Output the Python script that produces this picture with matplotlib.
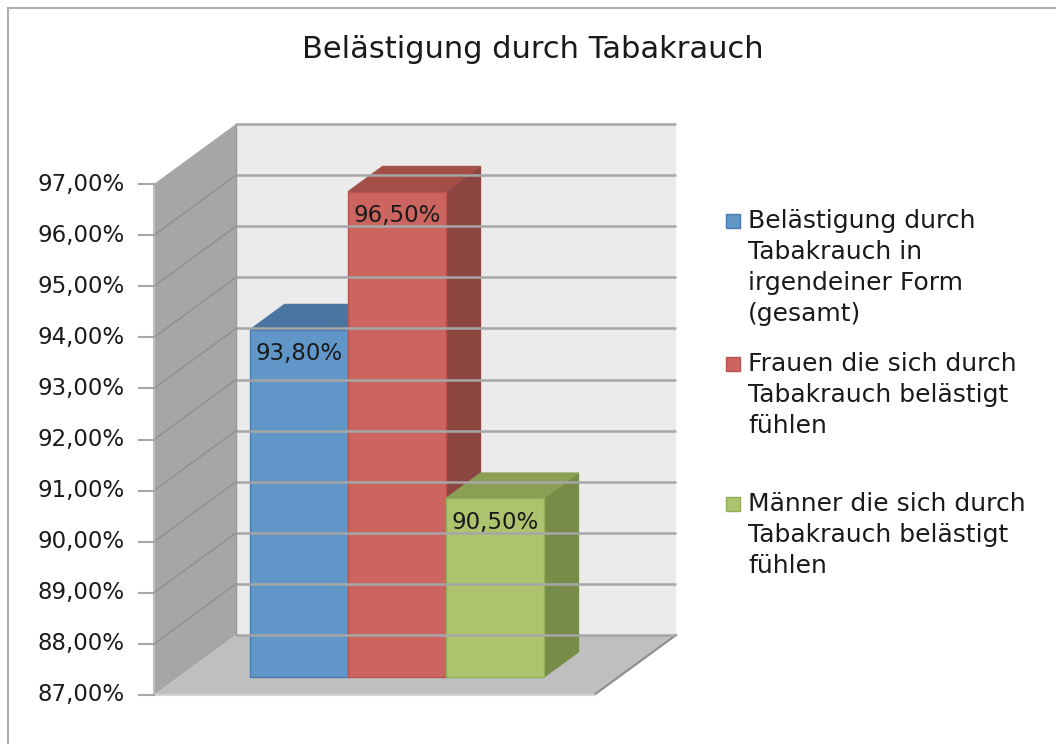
import matplotlib
matplotlib.use("Agg")
import matplotlib.pyplot as plt
from matplotlib.patches import Polygon, Rectangle

plt.rcParams["font.family"] = ["DejaVu Sans"]

title = "Belästigung durch Tabakrauch"
labels = [
    "Belästigung durch\nTabakrauch in\nirgendeiner Form\n(gesamt)",
    "Frauen die sich durch\nTabakrauch belästigt\nfühlen",
    "Männer die sich durch\nTabakrauch belästigt\nfühlen",
]
values = [93.8, 96.5, 90.5]
value_text = ["93,80%", "96,50%", "90,50%"]
ticks = list(range(87, 98))
tick_text = [f"{t},00%" for t in ticks]

front = ["#6196c9", "#cc6560", "#abc46d"]
top = ["#4a75a0", "#a34f48", "#8a9e54"]
side = ["#3f6489", "#8c4540", "#778c48"]
edge = ["#4a7ab0", "#b85550", "#93ad58"]

# oblique projection: depth d in [0, 1] shifts by (d*DX, d*DY)
DX, DY = 0.837, 1.174
W = 4.49          # floor width in bar units
X0 = 0.73         # first bar left edge in front plane
D0, D1 = 0.30, 0.72
YMIN, YMAX = 87, 97


def P(x, v, d):
    return (x + d * DX, v + d * DY)


fig = plt.figure(figsize=(10.56, 7.44), dpi=100)
ax = fig.add_axes([0, 0, 1, 1])
ax.set_xlim(-154 / 98, (1056 - 154) / 98)
ax.set_ylim(87 - 49 / 51.1, 87 + 695 / 51.1)
ax.axis("off")

# back wall
ax.add_patch(Polygon([P(0, YMIN, 1), P(W, YMIN, 1), P(W, YMAX, 1), P(0, YMAX, 1)],
                     closed=True, fc="#ebebeb", ec="none"))
# side wall
ax.add_patch(Polygon([P(0, YMIN, 0), P(0, YMAX, 0), P(0, YMAX, 1), P(0, YMIN, 1)],
                     closed=True, fc="#a6a6a6", ec="none"))
# floor
ax.add_patch(Polygon([P(0, YMIN, 0), P(W, YMIN, 0), P(W, YMIN, 1), P(0, YMIN, 1)],
                     closed=True, fc="#bfbfbf", ec="none"))
ax.plot(*zip(P(W, YMIN, 0), P(W, YMIN, 1)), color="#8c8c8c", lw=1.5)
ax.plot(*zip(P(0, YMIN, 0), P(W, YMIN, 0)), color="#d4d4d4", lw=1.5)

for t in ticks:
    a, b = P(0, t, 1), P(W, t, 1)
    ax.plot([a[0], b[0]], [a[1], b[1]], color="#a6a6a6", lw=1.8, solid_capstyle="butt")
    if YMIN < t < YMAX:
        c = P(0, t, 0)
        ax.plot([c[0], a[0]], [c[1], a[1]], color="#8f8f8f", lw=1)
ax.plot(*zip(P(0, YMIN, 1), P(0, YMAX, 1)), color="#9a9a9a", lw=1)

# value axis
ax.plot([0, 0], [YMIN, YMAX], color="#bfbfbf", lw=1.5)
for t, s in zip(ticks, tick_text):
    ax.plot([-0.15, 0], [t, t], color="#a6a6a6", lw=1.5)
    ax.text(-0.30, t, s, ha="right", va="center", fontsize=16.5, color="#1a1a1a")

# bars
for i, v in enumerate(values):
    x = X0 + i
    ax.add_patch(Polygon([P(x + 1, YMIN, D0), P(x + 1, v, D0), P(x + 1, v, D1), P(x + 1, YMIN, D1)],
                         closed=True, fc=side[i], ec=side[i], lw=0.8))
    ax.add_patch(Polygon([P(x, v, D0), P(x + 1, v, D0), P(x + 1, v, D1), P(x, v, D1)],
                         closed=True, fc=top[i], ec=top[i], lw=0.8))
    ax.add_patch(Polygon([P(x, YMIN, D0), P(x + 1, YMIN, D0), P(x + 1, v, D0), P(x, v, D0)],
                         closed=True, fc=front[i], ec=edge[i], lw=1))
    lx, ly = P(x + 0.5, v - 0.47, D0)
    ax.text(lx, ly, value_text[i], ha="center", va="center", fontsize=16.5, color="#1a1a1a")

# title
fig.text(533 / 1056, 1 - 49 / 744, title, ha="center", va="center", fontsize=22, color="#1a1a1a")

# legend: one text per line, 31 px apart
leg_y = [221, 364, 504]
for i, lab in enumerate(labels):
    fig.patches.append(Rectangle((726 / 1056, 1 - (leg_y[i] + 7) / 744), 14 / 1056, 14 / 744,
                                 transform=fig.transFigure, fc=front[i], ec=edge[i], lw=1))
    for k, line in enumerate(lab.split("\n")):
        fig.text(748 / 1056, 1 - (leg_y[i] + 31 * k) / 744, line, ha="left", va="center",
                 fontsize=18, color="#1a1a1a")

# chart border
fig.patches.append(Rectangle((8 / 1056, -0.05), 1.1, 1 - 8 / 744 + 0.05,
                             transform=fig.transFigure, fill=False, ec="#b0b0b0", lw=1.5))

fig.savefig("out.png", dpi=100)
